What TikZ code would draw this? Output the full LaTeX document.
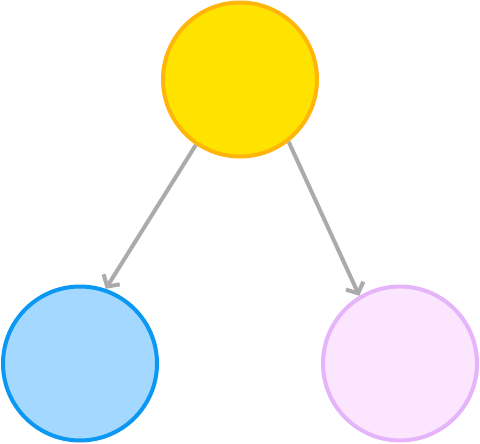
\documentclass[tikz,border=0pt]{standalone}
\usetikzlibrary{arrows.meta}
\definecolor{yfill}{HTML}{FFE300}
\definecolor{ydraw}{HTML}{FFB50A}
\definecolor{bfill}{HTML}{A5D8FF}
\definecolor{bdraw}{HTML}{0A98F2}
\definecolor{pfill}{HTML}{FCE5FF}
\definecolor{pdraw}{HTML}{E5B4FA}
\definecolor{arr}{HTML}{ABABAB}
\tikzset{
  ball/.style={circle, minimum size=154pt, inner sep=0pt, line width=4pt},
  link/.style={draw=arr, line width=4pt, -{Straight Barb[length=8.5pt,width=19pt,line width=4pt]}}
}
\begin{document}
\begin{tikzpicture}[x=1pt,y=-1pt]
\useasboundingbox (0,0) rectangle (480,444);
\node[ball, fill=yfill, draw=ydraw] (top) at (240,79.5) {};
\node[ball, fill=bfill, draw=bdraw] (left) at (80,363.5) {};
\node[ball, fill=pfill, draw=pdraw] (right) at (400,363.5) {};
\draw[link] (top.236.7) -- (left.71);
\draw[link] (top.308.3) -- (right.121.8);
\end{tikzpicture}
\end{document}
